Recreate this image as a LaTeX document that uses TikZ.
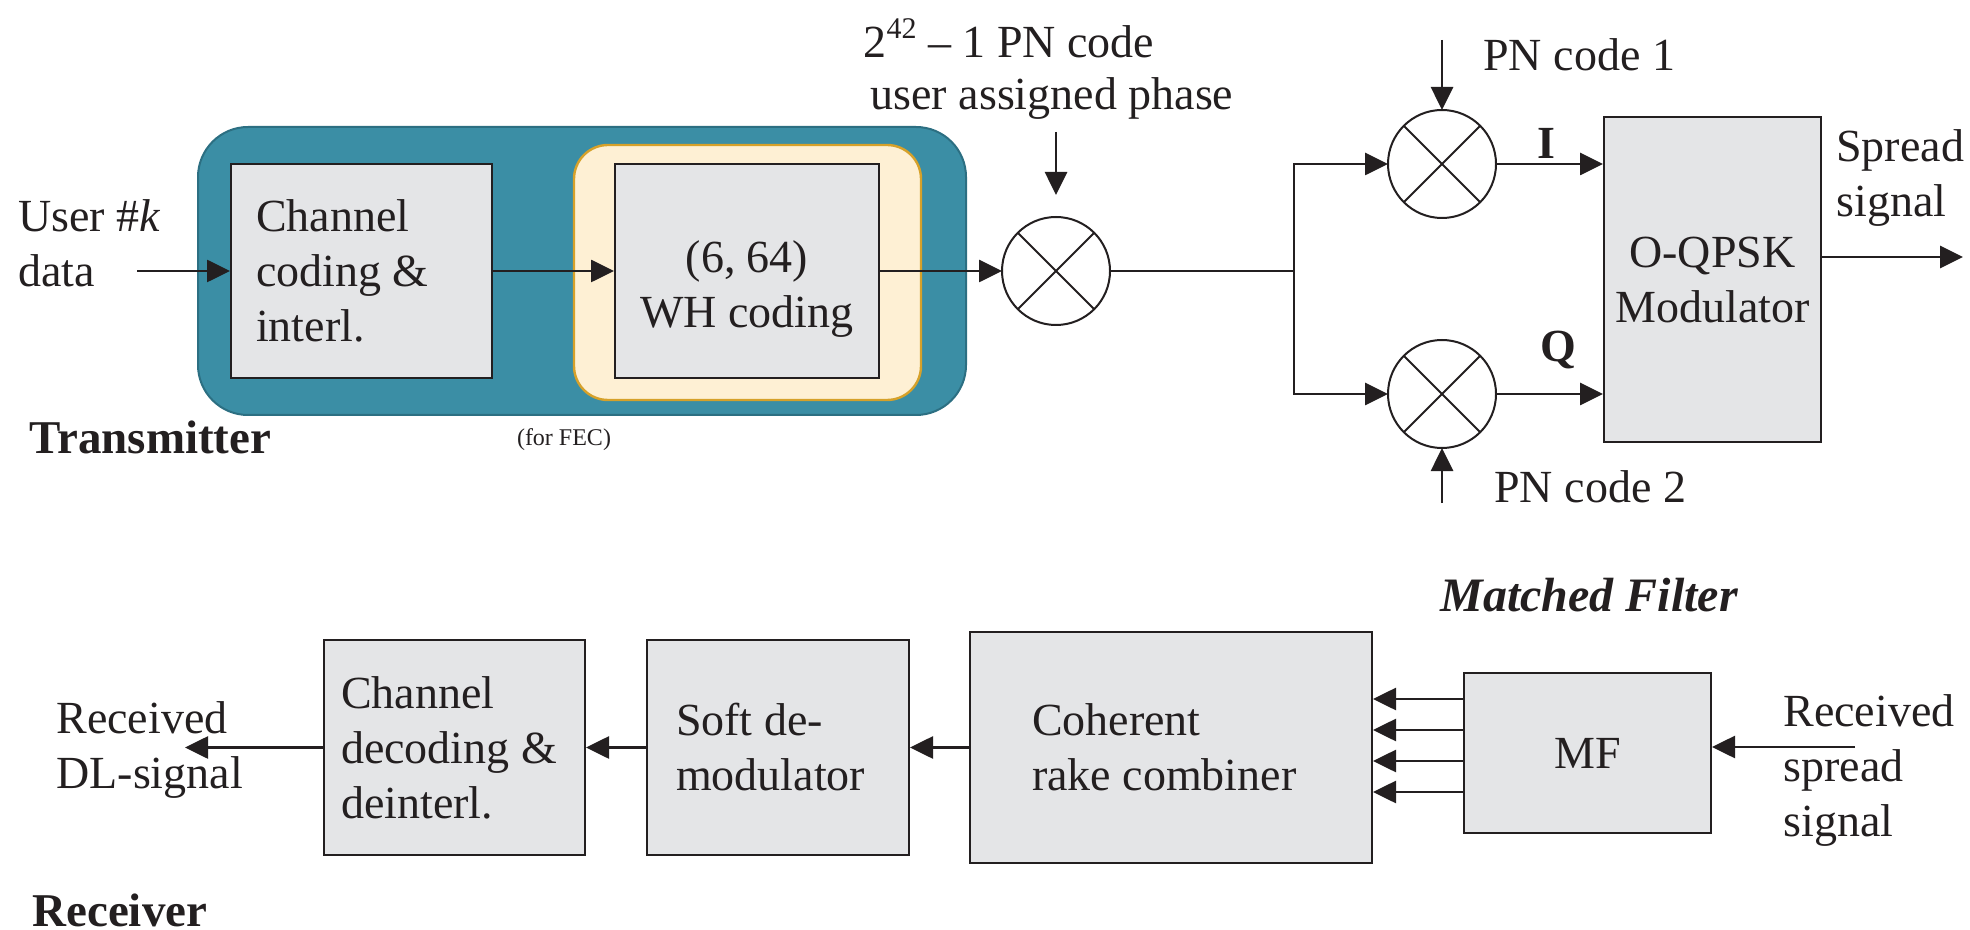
\documentclass[tikz,border=0pt]{standalone}
\usepackage{fontspec}
\setmainfont{Liberation Serif}
\usetikzlibrary{arrows.meta}
\definecolor{teal1}{HTML}{3B8EA5}
\definecolor{teal2}{HTML}{2C6F82}
\definecolor{cream}{HTML}{FEF0D4}
\definecolor{gold}{HTML}{D6A12A}
\definecolor{boxgray}{HTML}{E4E5E7}
\definecolor{ink}{HTML}{231F20}
\newcommand\mainsz{\fontsize{23}{27.5}\selectfont}
\newcommand\labsz{\fontsize{23.5}{28}\selectfont\bfseries}
\newcommand\nsp{\spaceskip=0pt\xspaceskip=0pt\relax}
\begin{document}
\begin{tikzpicture}[x=0.5pt,y=-0.5pt,
  font=\mainsz,
  blk/.style={draw=ink, line width=1pt, fill=boxgray, inner sep=0pt, minimum height=107pt, text=ink},
  mix/.style={draw=ink, line width=1pt, circle, minimum size=54pt, inner sep=0pt, outer sep=0pt},
  arr/.style={draw=ink, line width=1.35pt, -{Triangle[length=11.5pt,width=11pt]}},
  ln/.style={draw=ink, line width=1.35pt},
  xl/.style={draw=ink, line width=1pt},
  txt/.style={inner sep=0pt, text=ink},
]
\useasboundingbox (0,0) rectangle (1970,930);

% ---------------- Transmitter ----------------
\node[draw=teal2, line width=1pt, fill=teal1, rounded corners=25pt,
      minimum width=384pt, minimum height=144pt] (grp) at (582,271) {};
\node[draw=gold, line width=1.2pt, fill=cream, rounded corners=17pt,
      minimum width=173.5pt, minimum height=127.5pt] (fec) at (747.5,272.5) {};

\node[blk, text width=105.5pt, inner xsep=12.5pt, align=left] (cc) at (361.5,271)
  {\nsp Channel\\coding \&\\interl.};
\node[blk, minimum width=132pt] (wh) at (747,271)
  {\raisebox{-15pt}[0pt][0pt]{\begin{tabular}{@{}c@{}}(6, 64)\\WH coding\end{tabular}}};

\node[txt, anchor=west, align=left] (user) at (18,243) {\nsp User \#\textit{k}\\data};
\node[txt, anchor=west, font=\labsz] (tlab) at (29,437) {Transmitter};
\node[txt, font=\fontsize{12}{14}\selectfont] (feclab) at (564,440) {(for FEC)};

\coordinate (uin) at (137,271);
\draw[arr] (uin) -- (cc.west);
\draw[arr] (cc.east) -- (wh.west);

\node[mix] (m1) at (1056,271) {};
\draw[xl] (m1.north east) -- (m1.south west) (m1.north west) -- (m1.south east);
\draw[arr] (wh.east) -- (m1.west);

\node[txt, anchor=base] (pnl1) at (1009,58) {2\raisebox{0.42em}{\fontsize{15}{15}\selectfont 42} – 1 PN code};
\node[txt, anchor=base] (pnl2) at (1052,110) {user assigned phase};
\coordinate (pn0) at (1056,132);
\draw[arr] (pn0) -- ([yshift=11pt]m1.north);

\coordinate (sp) at (1294,271);
\draw[ln] (m1.east) -- (sp);
\node[mix] (m2) at (1442,164) {};
\draw[xl] (m2.north east) -- (m2.south west) (m2.north west) -- (m2.south east);
\node[mix] (m3) at (1442,394) {};
\draw[xl] (m3.north east) -- (m3.south west) (m3.north west) -- (m3.south east);
\draw[arr] (sp) |- (m2.west);
\draw[arr] (sp) |- (m3.west);

\node[blk, minimum width=108.5pt, minimum height=162.5pt, align=center] (oq) at (1712.5,279.5)
  {O-QPSK\\Modulator};
\draw[arr] (m2.east) -- (m2.east -| oq.west);
\draw[arr] (m3.east) -- (m3.east -| oq.west);
\node[txt, font=\mainsz\bfseries] (ilab) at (1546,143) {I};
\node[txt, font=\mainsz\bfseries] (qlab) at (1558,350) {Q};

\coordinate (pn1) at (1442,40);
\draw[arr] (pn1) -- (m2.north);
\node[txt, anchor=west] (pn1l) at (1483,55) {PN code 1};
\coordinate (pn2) at (1442,503);
\draw[arr] (pn2) -- (m3.south);
\node[txt, anchor=west] (pn2l) at (1494,487) {PN code 2};

\coordinate (out) at (1963,257);
\draw[arr] (oq.east |- out) -- (out);
\node[txt, anchor=west, align=left] (spl) at (1836,178) {Spread\\signal};

% ---------------- Receiver ----------------
\node[blk, text width=113.5pt, inner xsep=8.5pt, minimum height=107.5pt, align=left] (cd) at (454.5,747.5)
  {\nsp Channel\\decoding \&\\deinterl.};
\node[blk, text width=102pt, inner xsep=14.5pt, minimum height=107.5pt, align=left] (sd) at (778,747.5)
  {\nsp Soft de-\\modulator};
\node[blk, text width=139pt, inner xsep=31pt, minimum height=115.5pt, align=left] (rk) at (1171,747.5)
  {\nsp Coherent\\rake combiner};
\node[blk, minimum width=123.5pt, minimum height=80pt] (mf) at (1587.5,753) {MF};

\node[txt, font=\fontsize{24}{28}\selectfont\bfseries\itshape] (mfl) at (1589,595) {Matched Filter};

\coordinate (t1) at ([yshift=27pt]mf.west);
\coordinate (t2) at ([yshift=11.5pt]mf.west);
\coordinate (t3) at ([yshift=-4pt]mf.west);
\coordinate (t4) at ([yshift=-19.5pt]mf.west);
\draw[arr] (t1) -- (t1 -| rk.east);
\draw[arr] (t2) -- (t2 -| rk.east);
\draw[arr] (t3) -- (t3 -| rk.east);
\draw[arr] (t4) -- (t4 -| rk.east);

\coordinate (rin) at (1855,747);
\draw[arr] (rin) -- (rin -| mf.east);
\node[txt, anchor=west, align=left] (rsl) at (1783,771) {Received\\spread\\signal};

\draw[arr] (rk.west) -- (sd.east);
\draw[arr] (sd.west) -- (cd.east);
\coordinate (rout) at (185,747.5);
\draw[arr] (cd.west) -- (rout);
\node[txt, anchor=west, align=left] (rdl) at (56,750) {Received\\DL-signal};

\node[txt, anchor=west, font=\labsz] (rlab) at (32,910) {Receiver};
\end{tikzpicture}
\end{document}
